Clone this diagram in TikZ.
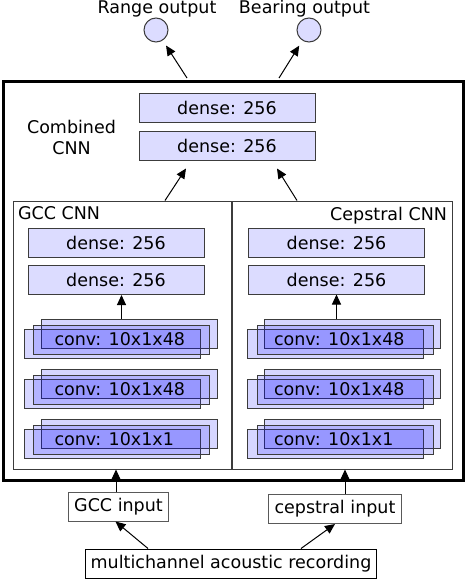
\documentclass[tikz,border=0pt]{standalone}
\usepackage{fontspec}
\setmainfont{DejaVu Sans}
\usetikzlibrary{positioning,arrows.meta}
\definecolor{layerfill}{RGB}{220,220,255}
\definecolor{edgegray}{RGB}{60,60,60}

\begin{document}
\fontsize{17.5}{21}\selectfont
\begin{tikzpicture}[x=1pt, y=1pt, inner sep=0pt,
    >={Triangle[length=10pt,width=9pt]}, line width=1pt,
    denselayer/.style={draw=edgegray, fill=layerfill, minimum width=176pt, minimum height=29pt},
    convlayer/.style={draw=edgegray, fill=blue, fill opacity=0.16, draw opacity=1, minimum width=176pt, minimum height=29pt},
    subnet/.style={draw=edgegray, minimum height=268pt},
    inputbox/.style={draw=black!65, minimum height=29pt, inner xsep=6pt}]
  \useasboundingbox (0,0) rectangle (466,-581);

  % Outputs
  \node[draw=edgegray, fill=layerfill, circle, minimum size=24pt] (range) at (156,-30) {};
  \node[draw=edgegray, fill=layerfill, circle, minimum size=24pt] (bearing) at (309,-30) {};
  \node[anchor=base] (rangelbl) at (157,-13.5) {Range output};
  \node[anchor=base] (bearinglbl) at (304.5,-13.5) {Bearing output};

  % Combined CNN
  \node[draw, line width=3pt, minimum width=460pt, minimum height=399pt] (combined) at (233,-280.5) {};
  \node[align=center] (comblbl) at (71.5,-137) {Combined\\CNN};
  \node[denselayer] (comb1) at (227,-107.5) {dense: 256};
  \node[denselayer, below=8pt of comb1] (comb2) {dense: 256};

  % GCC CNN
  \node[subnet, minimum width=218pt] (gcccnn) at (122,-335) {};
  \node[below right=6pt and 5pt of gcccnn.north west] (gcclbl) {GCC CNN};
  \node[denselayer] (gden1) at (116,-243) {dense: 256};
  \node[denselayer, below=7pt of gden1] (gden2) {dense: 256};
  % conv stacks
  \node[convlayer] (gback1) at (129,-333.5) {};
  \node[convlayer] (gfront1) at (112,-343.5) {};
  \node[convlayer] (gmid1) at (121.5,-339.5) {};
  \node[right=21pt of gmid1.west] (gtxt1) {conv: 10x1x48};
  \node[convlayer] (gback2) at (129,-383.5) {};
  \node[convlayer] (gfront2) at (112,-393.5) {};
  \node[convlayer] (gmid2) at (121.5,-389.5) {};
  \node[right=21pt of gmid2.west] (gtxt2) {conv: 10x1x48};
  \node[convlayer] (gback3) at (129,-433.5) {};
  \node[convlayer] (gfront3) at (112,-443.5) {};
  \node[convlayer] (gmid3) at (121.5,-439.5) {};
  \node[right=21pt of gmid3.west] (gtxt3) {conv: 10x1x1};

  % Cepstral CNN
  \node[subnet, minimum width=220pt] (cepcnn) at (342,-335) {};
  \node[below left=6pt and 5pt of cepcnn.north east] (ceplbl) {Cepstral CNN};
  \node[denselayer] (cden1) at (336.5,-242.5) {dense: 256};
  \node[denselayer, below=7pt of cden1] (cden2) {dense: 256};
  % conv stacks
  \node[convlayer] (cback1) at (352,-333.5) {};
  \node[convlayer] (cfront1) at (335.5,-343.5) {};
  \node[convlayer] (cmid1) at (345,-339.5) {};
  \node[right=17pt of cmid1.west] (ctxt1) {conv: 10x1x48};
  \node[convlayer] (cback2) at (352,-383.5) {};
  \node[convlayer] (cfront2) at (335.5,-393.5) {};
  \node[convlayer] (cmid2) at (345,-389.5) {};
  \node[right=17pt of cmid2.west] (ctxt2) {conv: 10x1x48};
  \node[convlayer] (cback3) at (352,-433.5) {};
  \node[convlayer] (cfront3) at (335.5,-443.5) {};
  \node[convlayer] (cmid3) at (345,-439.5) {};
  \node[right=17pt of cmid3.west] (ctxt3) {conv: 10x1x1};

  % Inputs
  \node[inputbox] (gccin) at (118.5,-506.5) {GCC input};
  \node[inputbox] (cepin) at (335,-509) {cepstral input};
  \node[draw, minimum height=29pt, inner xsep=5pt] (recording) at (231,-563.5) {multichannel acoustic recording};

  % Connections
  \draw[->] ([xshift=-83pt]recording.north) -- ([xshift=-3pt]gccin.south);
  \draw[->] ([xshift=70pt]recording.north) -- (cepin.south);
  \draw[->] ([xshift=-2.5pt]gccin.north) -- ([xshift=-2.5pt]gccin.north |- gcccnn.south);
  \draw[->] ([xshift=10pt]cepin.north) -- ([xshift=10pt]cepin.north |- cepcnn.south);
  \draw[->] (gmid1 |- gback1.north) -- (gmid1 |- gden2.south);
  \draw[->] (cden2 |- cback1.north) -- (cden2.south);
  \draw[->] ([xshift=43pt]gcccnn.north) -- ([xshift=-41pt,yshift=-8pt]comb2.south);
  \draw[->] ([xshift=-45pt]cepcnn.north) -- ([xshift=50pt,yshift=-8pt]comb2.south);
  \draw[->, shorten >=6pt] ([xshift=-46pt,yshift=1.5pt]combined.north) -- (range);
  \draw[->, shorten >=6pt] ([xshift=46pt,yshift=1.5pt]combined.north) -- (bearing);
\end{tikzpicture}
\end{document}
